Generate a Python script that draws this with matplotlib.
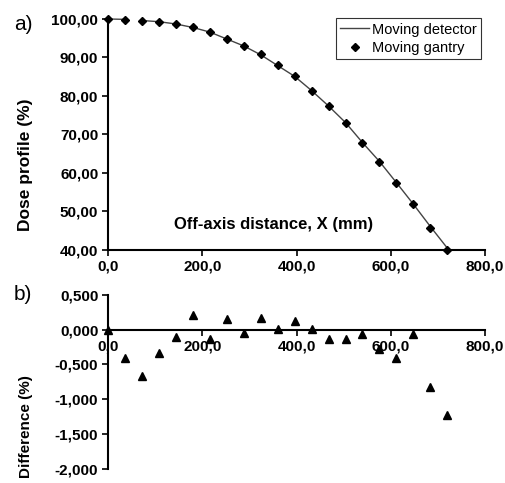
import numpy as np
import matplotlib.pyplot as plt
from matplotlib.ticker import FuncFormatter

plt.rcParams['font.family'] = ['Liberation Sans', 'DejaVu Sans']

# off-axis positions (mm)
x_mm = [0, 36, 72, 108, 144, 180, 216, 252, 288, 324, 360,
        396, 432, 468, 504, 540, 576, 612, 648, 684, 720]

# dose profile, moving gantry (%)
gantry = [100.0, 99.8, 99.5, 99.2, 98.7, 97.9, 96.5, 94.9, 93.0, 90.8, 88.0,
          85.2, 81.4, 77.3, 73.0, 67.9, 62.8, 57.3, 51.9, 45.7, 40.0]

# dose profile, moving detector (%), with a gap in the trace after 36 mm
det_x = [0, 36, 54, 72, 108, 144, 180, 216, 252, 288, 324, 360,
         396, 432, 468, 504, 540, 576, 612, 648, 684, 720]
detector = [100.0, 99.9, np.nan, 99.6, 99.3, 98.7, 97.8, 96.6, 94.8, 93.0, 90.7, 87.9,
            85.1, 81.4, 77.4, 73.1, 67.9, 63.0, 57.5, 51.9, 46.1, 40.5]

# difference (%)
diff = [0.00, -0.41, -0.67, -0.33, -0.10, 0.21, -0.14, 0.15, -0.04, 0.17, 0.01,
        0.13, 0.01, -0.14, -0.13, -0.06, -0.27, -0.41, -0.06, -0.82, -1.22]


def comma(fmt):
    return FuncFormatter(lambda v, p: (fmt % v).replace('.', ','))


fig = plt.figure(figsize=(5.05, 4.83), dpi=100)
ax1 = fig.add_axes([0.2139, 0.4824, 0.7465, 0.4783])
ax2 = fig.add_axes([0.2139, 0.0296, 0.7465, 0.3596])

# top panel
ax1.plot(det_x, detector, color='#444444', lw=1.0, label='Moving detector', clip_on=False)
ax1.plot(x_mm, gantry, 'D', color='black', ms=4.5, ls='none', label='Moving gantry',
         clip_on=False, zorder=3)
ax1.set_xlim(0, 800)
ax1.set_ylim(40, 100)
ax1.set_xticks(np.arange(0, 801, 200))
ax1.set_yticks(np.arange(40, 101, 10))
ax1.xaxis.set_major_formatter(comma('%.1f'))
ax1.yaxis.set_major_formatter(comma('%.2f'))
ax1.spines['top'].set_visible(False)
ax1.spines['right'].set_visible(False)
ax1.spines['left'].set_linewidth(1.5)
ax1.spines['bottom'].set_linewidth(1.5)
ax1.tick_params(direction='out', length=4, width=1.2, pad=3)
for t in ax1.get_xticklabels() + ax1.get_yticklabels():
    t.set_fontsize(11)
    t.set_fontweight('bold')
ax1.set_ylabel('Dose profile (%)', fontsize=12.5, fontweight='bold')
ax1.yaxis.set_label_coords(-0.199, 0.368)
ax1.text(0.44, 0.11, 'Off-axis distance, X (mm)', transform=ax1.transAxes,
         ha='center', va='center', fontsize=12, fontweight='bold')
leg = ax1.legend(loc='upper right', bbox_to_anchor=(1.01, 1.035), fontsize=10.5,
                 frameon=True, fancybox=False, edgecolor='black', handlelength=2.0,
                 handletextpad=0.2, borderpad=0.3, labelspacing=0.3)
leg.get_frame().set_linewidth(0.8)
fig.text(0.046, 0.95, 'a)', fontsize=15, ha='center', va='center')

# bottom panel
ax2.plot(x_mm, diff, '^', color='black', ms=6, ls='none', clip_on=False)
ax2.set_xlim(0, 800)
ax2.set_ylim(-2.0, 0.5)
ax2.set_xticks(np.arange(0, 801, 200))
ax2.set_yticks(np.arange(-2.0, 0.51, 0.5))
ax2.xaxis.set_major_formatter(comma('%.1f'))
ax2.yaxis.set_major_formatter(comma('%.3f'))
ax2.spines['top'].set_visible(False)
ax2.spines['right'].set_visible(False)
ax2.spines['bottom'].set_position(('data', 0))
ax2.spines['left'].set_linewidth(1.5)
ax2.spines['bottom'].set_linewidth(1.5)
ax2.tick_params(direction='out', length=4, width=1.2, pad=3)
for t in ax2.get_xticklabels() + ax2.get_yticklabels():
    t.set_fontsize(11)
    t.set_fontweight('bold')
ax2.set_ylabel('Difference (%)', fontsize=11, fontweight='bold')
ax2.yaxis.set_label_coords(-0.199, 0.245)
fig.text(0.046, 0.39, 'b)', fontsize=15, ha='center', va='center')

fig.savefig('out.png', dpi=100)
